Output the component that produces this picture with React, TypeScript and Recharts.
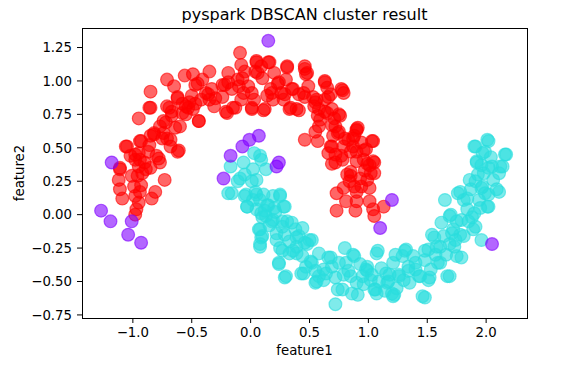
import { Scatter, ScatterChart, XAxis, YAxis } from "recharts";

type Pt = [number, number];

// DBSCAN labels: noise / cluster 0 / cluster 1
const noisePoints: Pt[] = [
  [0.15, 1.3], [-1.18, 0.39], [-0.17, 0.44], [-0.07, 0.51], [-0.01, 0.56], [0.07, 0.59],
  [-0.23, 0.27], [0.22, 0.36], [0.24, 0.39], [-1.27, 0.03], [-1.19, -0.05], [-1.01, -0.05],
  [-1.04, -0.15], [-0.93, -0.21], [1.2, 0.11], [1.1, -0.1], [2.05, -0.22],
];

const cyanPoints: Pt[] = [
  [-0.17, 0.36], [-0.19, 0.16], [-0.16, 0.16], [-0.11, 0.25], [-0.06, 0.39], [-0.05, 0.3],
  [0.03, 0.46], [0.08, 0.44], [0.09, 0.41], [0.13, 0.34], [0.02, 0.34], [0.05, 0.26],
  [-0.05, 0.14], [-0.03, 0.06], [0.02, 0.11], [0.05, 0.15], [0.08, 0.11], [0.05, 0.04],
  [0.09, 0.01], [0.14, 0.07], [0.19, 0.14], [0.2, 0.05], [0.25, 0.14], [0.28, 0.06],
  [0.13, -0.01], [0.19, -0.04], [0.08, -0.11], [0.09, -0.17], [0.08, -0.24], [0.22, -0.14],
  [0.27, -0.09], [0.31, -0.05], [0.38, -0.11], [0.41, -0.16], [0.22, -0.19], [0.25, -0.25],
  [0.24, -0.37], [0.3, -0.46], [0.33, -0.29], [0.39, -0.24], [0.46, -0.21], [0.5, -0.19],
  [0.44, -0.31], [0.47, -0.39], [0.43, -0.44], [0.52, -0.36], [0.55, -0.51], [0.58, -0.46],
  [0.62, -0.41], [0.66, -0.32], [0.69, -0.39], [0.72, -0.47], [0.72, -0.67], [0.74, -0.56],
  [0.8, -0.25], [0.81, -0.36], [0.85, -0.46], [0.88, -0.31], [0.91, -0.6], [0.9, -0.51],
  [0.98, -0.41], [0.99, -0.39], [1.02, -0.49], [1.05, -0.56], [1.07, -0.59], [1.08, -0.27],
  [1.15, -0.44], [1.16, -0.51], [1.2, -0.59], [1.21, -0.36], [1.22, -0.6], [1.26, -0.46],
  [1.29, -0.31], [1.32, -0.26], [1.34, -0.39], [1.35, -0.51], [1.4, -0.41], [1.43, -0.46],
  [1.46, -0.61], [1.48, -0.34], [1.51, -0.26], [1.53, -0.41], [1.51, -0.49], [1.56, -0.17],
  [1.59, -0.36], [1.61, -0.24], [1.62, -0.06], [1.64, -0.16], [1.65, 0.11], [1.67, -0.46],
  [1.7, 0.0], [1.72, -0.11], [1.73, -0.24], [1.75, -0.31], [1.76, 0.16], [1.78, -0.15],
  [1.79, -0.04], [1.81, 0.11], [1.84, 0.04], [1.86, 0.26], [1.87, 0.19], [1.89, -0.11],
  [1.9, 0.01], [1.9, 0.51], [1.92, 0.39], [1.94, 0.11], [1.96, -0.19], [1.97, 0.46],
  [1.98, 0.31], [1.97, 0.21], [1.99, 0.16], [2.01, 0.56], [2.01, 0.06], [2.05, 0.36],
  [2.06, 0.26], [2.11, 0.31], [2.11, 0.17], [2.14, 0.36], [2.16, 0.45], [2.17, 0.45],
  [-0.09, 0.27], [0.01, 0.25], [-0.04, 0.15], [0.04, 0.17], [0.11, 0.15], [0.25, 0.15],
  [-0.03, 0.06], [0.15, 0.07], [0.21, 0.02], [0.29, 0.06], [0.1, -0.02], [0.18, -0.05],
  [0.27, -0.05], [0.35, -0.06], [0.44, -0.1], [0.07, -0.11], [0.1, -0.16], [0.08, -0.22],
  [0.29, -0.15], [0.39, -0.17], [0.52, -0.19], [0.48, -0.22], [0.27, -0.27], [0.39, -0.29],
  [0.58, -0.29], [0.68, -0.32], [0.87, -0.3], [0.24, -0.36], [0.51, -0.35], [0.75, -0.36],
  [0.45, -0.44], [0.56, -0.5], [0.29, -0.47], [0.62, -0.49], [0.79, -0.45], [0.78, -0.56],
  [0.86, -0.59], [0.99, -0.42], [1.07, -0.29], [0.96, -0.52], [1.06, -0.56], [1.03, -0.45],
  [0.93, -0.37], [1.78, 0.17], [1.84, 0.12], [1.91, 0.25], [1.96, 0.2], [2.02, 0.15],
  [2.09, 0.19], [2.02, 0.06], [1.95, 0.05], [1.88, -0.02], [1.91, -0.09], [1.69, -0.01],
  [1.75, -0.05], [1.54, -0.15], [1.71, -0.14], [1.81, -0.16], [1.58, -0.24], [1.69, -0.22],
  [1.79, -0.32], [1.48, -0.27], [1.31, -0.27], [1.23, -0.3], [1.4, -0.36], [1.61, -0.36],
  [1.69, -0.46], [1.52, -0.47], [1.44, -0.46], [1.34, -0.42], [1.26, -0.45], [1.17, -0.5],
  [1.24, -0.55], [1.14, -0.57], [1.21, -0.61], [1.48, -0.62], [1.11, -0.4], [2.02, 0.55],
  [1.91, 0.51], [1.99, 0.47], [1.92, 0.4], [1.96, 0.37], [2.12, 0.36], [2.02, 0.35],
  [0.12, 0.03], [0.16, -0.08], [0.33, -0.2], [0.36, -0.27], [0.55, -0.42], [0.64, -0.44],
  [0.83, -0.42], [0.95, -0.46], [1.09, -0.5], [1.18, -0.45], [1.3, -0.49], [1.38, -0.31],
  [1.57, -0.3], [1.66, -0.3], [1.74, -0.19], [1.85, -0.05], [1.93, 0.3], [2.04, 0.43],
];

const redPoints: Pt[] = [
  [-0.98, 0.0], [-0.97, 0.04], [-0.95, 0.09], [-0.98, 0.14], [-0.94, 0.17], [-0.99, 0.21],
  [-0.93, 0.22], [-1.09, 0.12], [-1.11, 0.19], [-1.12, 0.26], [-1.11, 0.34], [-0.84, 0.12],
  [-0.81, 0.17], [-0.96, 0.29], [-0.92, 0.31], [-0.95, 0.36], [-0.9, 0.39], [-0.98, 0.41],
  [-1.02, 0.44], [-1.05, 0.51], [-0.95, 0.46], [-0.93, 0.55], [-0.89, 0.34], [-0.85, 0.35],
  [-0.73, 0.26], [-0.77, 0.39], [-0.8, 0.44], [-0.87, 0.47], [-0.85, 0.59], [-0.82, 0.61],
  [-0.77, 0.66], [-0.74, 0.61], [-0.71, 0.57], [-0.62, 0.47], [-0.68, 0.51], [-0.95, 0.72],
  [-0.85, 0.8], [-0.85, 0.92], [-0.72, 0.69], [-0.69, 0.8], [-0.71, 1.01], [-0.65, 0.96],
  [-0.62, 0.87], [-0.67, 0.74], [-0.58, 0.76], [-0.55, 0.81], [-0.52, 0.84], [-0.6, 0.66],
  [-0.56, 1.04], [-0.49, 1.05], [-0.47, 0.97], [-0.5, 0.89], [-0.49, 0.79], [-0.44, 0.7],
  [-0.42, 0.86], [-0.41, 1.01], [-0.35, 1.07], [-0.33, 0.94], [-0.35, 0.86], [-0.31, 0.81],
  [-0.38, 0.91], [-0.24, 0.88], [-0.2, 0.76], [-0.19, 1.06], [-0.22, 0.97], [-0.15, 0.8],
  [-0.16, 0.94], [-0.11, 1.01], [-0.09, 1.21], [-0.08, 1.12], [-0.06, 0.91], [-0.08, 0.86],
  [-0.02, 0.96], [-0.05, 1.07], [0.01, 0.79], [0.03, 0.86], [0.05, 1.15], [0.06, 1.06],
  [0.09, 1.11], [0.12, 0.79], [0.14, 0.89], [0.16, 1.14], [0.17, 0.94], [0.2, 1.06],
  [0.19, 0.86], [0.23, 0.98], [0.26, 0.91], [0.3, 1.01], [0.31, 1.1], [0.28, 0.86],
  [0.33, 0.79], [0.36, 0.94], [0.39, 0.79], [0.41, 0.9], [0.46, 1.11], [0.47, 1.05],
  [0.46, 0.88], [0.49, 0.96], [0.53, 0.88], [0.55, 0.84], [0.57, 0.74], [0.58, 0.79],
  [0.63, 1.0], [0.65, 0.95], [0.63, 0.86], [0.66, 0.88], [0.65, 0.76], [0.58, 0.66],
  [0.55, 0.62], [0.46, 0.56], [0.57, 0.55], [0.69, 0.79], [0.71, 0.72], [0.76, 0.74],
  [0.77, 0.94], [0.79, 0.91], [0.72, 0.66], [0.7, 0.59], [0.74, 0.61], [0.68, 0.51],
  [0.66, 0.46], [0.72, 0.39], [0.77, 0.44], [0.79, 0.51], [0.83, 0.56], [0.9, 0.64],
  [0.91, 0.65], [0.88, 0.59], [0.87, 0.51], [0.9, 0.47], [0.94, 0.54], [1.04, 0.55],
  [0.98, 0.49], [0.96, 0.41], [1.01, 0.37], [1.05, 0.39], [1.02, 0.31], [1.05, 0.31],
  [0.99, 0.26], [0.93, 0.27], [0.85, 0.29], [0.82, 0.3], [0.84, 0.25], [0.88, 0.21],
  [0.94, 0.21], [1.01, 0.2], [0.73, 0.16], [0.79, 0.2], [0.9, 0.17], [0.81, 0.1],
  [0.9, 0.1], [1.01, 0.1], [1.04, 0.04], [1.13, 0.06], [1.05, -0.01], [0.73, 0.03],
  [0.89, 0.03], [-1.01, 0.29], [-0.62, 0.88], [-0.45, 0.98], [-0.71, 0.81], [-0.58, 0.83],
  [-0.53, 0.8], [-0.47, 0.83], [-0.55, 0.75], [-0.44, 0.7], [-0.67, 0.77], [-0.64, 0.65],
  [-0.74, 0.7], [-0.86, 0.8], [-0.82, 0.6], [-0.75, 0.57], [-0.68, 0.56], [-0.61, 0.48],
  [-0.86, 0.52], [-0.94, 0.55], [-1.06, 0.51], [-0.98, 0.45], [-0.78, 0.42], [-0.94, 0.41],
  [-1.11, 0.35], [-0.36, 0.9], [-0.3, 0.87], [-0.21, 0.77], [-0.24, 0.97], [-0.19, 0.99],
  [0.05, 1.14], [0.15, 1.14], [0.31, 1.11], [0.46, 1.09], [0.48, 1.06], [0.04, 1.07],
  [-0.07, 1.02], [0.1, 1.02], [0.24, 0.99], [0.35, 0.94], [0.63, 0.99], [0.78, 0.93],
  [-0.1, 0.96], [0.01, 0.91], [0.18, 0.91], [0.29, 0.9], [0.45, 0.91], [0.56, 0.86],
  [0.68, 0.9], [0.01, 0.8], [0.11, 0.78], [0.34, 0.8], [0.41, 0.78], [0.54, 0.81],
  [0.63, 0.77], [0.75, 0.75], [-0.13, 0.8], [0.59, 0.71], [0.69, 0.67], [0.75, 0.62],
  [0.9, 0.63], [0.8, 0.57], [0.69, 0.51], [0.87, 0.57], [1.03, 0.55], [0.72, 0.45],
  [0.85, 0.47], [0.96, 0.48], [0.69, 0.38], [0.78, 0.41], [0.9, 0.4], [0.99, 0.38],
  [1.04, 0.4], [0.85, 0.32], [0.97, 0.33],
];

const xTicks = [-1.0, -0.5, 0.0, 0.5, 1.0, 1.5, 2.0];
const yTicks = [-0.75, -0.5, -0.25, 0.0, 0.25, 0.5, 0.75, 1.0, 1.25];

const toRows = (pts: Pt[]) => pts.map(([x, y]) => ({ x, y }));
const minus = (s: string) => s.replace("-", "\u2212");

const FONT = "'DejaVu Sans', sans-serif";
const tickStyle = { fill: "#000", fontSize: 13.3, fontFamily: FONT };

function dot(color: string) {
  return (p: any) => (
    <circle
      cx={p.cx}
      cy={p.cy}
      r={6.4}
      fill={color}
      fillOpacity={0.6}
      stroke={color}
      strokeOpacity={0.6}
      strokeWidth={1.2}
    />
  );
}

export default function App() {
  const xDomain = [-1.432, 2.347];
  const yDomain = [-0.773, 1.396];
  return (
    <div style={{ position: "fixed", left: 0, top: 0, width: 583, height: 372, background: "#fff" }}>
      <div
        style={{
          position: "absolute", left: 82, width: 445, top: 6, textAlign: "center",
          fontFamily: FONT, fontSize: 16, lineHeight: "18px", color: "#000",
        }}
      >
        pyspark DBSCAN cluster result
      </div>
      <div
        style={{
          position: "absolute", left: 82, width: 445, top: 343, textAlign: "center",
          fontFamily: FONT, fontSize: 13.3, lineHeight: "16px", color: "#000",
        }}
      >
        feature1
      </div>
      <div style={{ position: "absolute", left: 20, top: 173, width: 0, height: 0 }}>
        <div
          style={{
            position: "absolute", left: -40, top: -8, width: 80, textAlign: "center",
            transform: "rotate(-90deg)", fontFamily: FONT, fontSize: 13.3, lineHeight: "16px", color: "#000",
          }}
        >
          feature2
        </div>
      </div>
      <ScatterChart width={583} height={372} margin={{ top: 28, right: 56, bottom: 24, left: 22 }}>
        <XAxis
          type="number"
          dataKey="x"
          domain={xDomain}
          ticks={xTicks}
          allowDataOverflow
          height={30}
          tickSize={5}
          tickMargin={5}
          tick={tickStyle}
          tickFormatter={(v: number) => minus(v.toFixed(1))}
          axisLine={false}
          tickLine={{ stroke: "#000" }}
        />
        <YAxis
          type="number"
          dataKey="y"
          domain={yDomain}
          ticks={yTicks}
          allowDataOverflow
          width={60}
          tickSize={5}
          tickMargin={5}
          tick={tickStyle}
          tickFormatter={(v: number) => minus(v.toFixed(2))}
          axisLine={false}
          tickLine={{ stroke: "#000" }}
        />
        <Scatter data={toRows(redPoints)} shape={dot("#ff0000")} isAnimationActive={false} />
        <Scatter data={toRows(cyanPoints)} shape={dot("#2adddd")} isAnimationActive={false} />
        <Scatter data={toRows(noisePoints)} shape={dot("#8000ff")} isAnimationActive={false} />
      </ScatterChart>
      {/* axes frame */}
      <div
        style={{
          position: "absolute", left: 81.5, top: 27.5, width: 446, height: 291,
          boxSizing: "border-box", border: "1px solid #000", pointerEvents: "none",
        }}
      />
    </div>
  );
}
